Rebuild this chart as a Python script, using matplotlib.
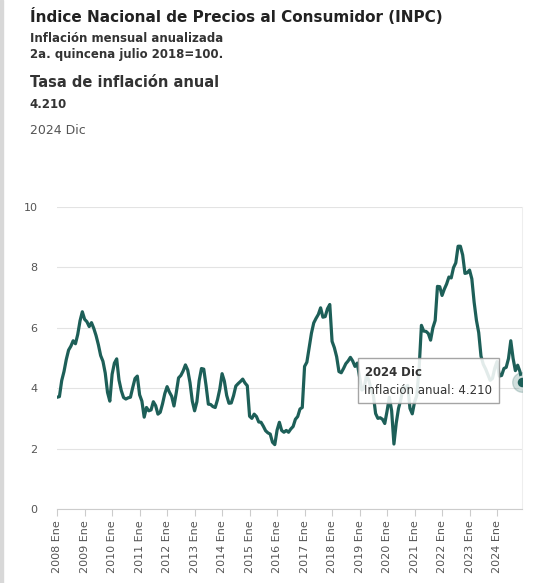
import matplotlib.pyplot as plt
import numpy as np

years = list(range(2008, 2025))
inflacion = [
    3.70, 3.72, 4.25, 4.55, 4.95, 5.26, 5.39, 5.57, 5.47, 5.78, 6.23, 6.53,
    6.28, 6.20, 6.04, 6.17, 5.98, 5.74, 5.44, 5.08, 4.89, 4.50, 3.86, 3.57,
    4.46, 4.83, 4.97, 4.27, 3.92, 3.69, 3.64, 3.68, 3.70, 4.02, 4.32, 4.40,
    3.78, 3.57, 3.04, 3.36, 3.25, 3.28, 3.55, 3.42, 3.14, 3.20, 3.48, 3.82,
    4.05, 3.87, 3.73, 3.41, 3.85, 4.34, 4.42, 4.57, 4.77, 4.60, 4.18, 3.57,
    3.25, 3.55, 4.25, 4.65, 4.63, 4.09, 3.47, 3.46, 3.39, 3.36, 3.62, 3.97,
    4.48, 4.23, 3.76, 3.50, 3.51, 3.75, 4.07, 4.15, 4.22, 4.30, 4.17, 4.08,
    3.07, 3.00, 3.14, 3.06, 2.88, 2.87, 2.74, 2.59, 2.52, 2.48, 2.21, 2.13,
    2.61, 2.87, 2.60, 2.54, 2.60, 2.54, 2.65, 2.73, 2.97, 3.06, 3.31, 3.36,
    4.72, 4.86, 5.35, 5.82, 6.16, 6.31, 6.44, 6.66, 6.35, 6.37, 6.63, 6.77,
    5.55, 5.34, 5.04, 4.55, 4.51, 4.65, 4.81, 4.90, 5.02, 4.90, 4.72, 4.83,
    4.37, 3.94, 4.00, 4.41, 4.28, 3.95, 3.78, 3.16, 3.00, 3.02, 2.97, 2.83,
    3.24, 3.70, 3.25, 2.15, 2.84, 3.33, 3.62, 4.05, 4.01, 4.09, 3.33, 3.15,
    3.54, 3.76, 4.67, 6.08, 5.89, 5.88, 5.81, 5.59, 6.00, 6.24, 7.37, 7.36,
    7.07, 7.28, 7.45, 7.68, 7.65, 7.99, 8.15, 8.70, 8.70, 8.41, 7.80, 7.82,
    7.91, 7.62, 6.85, 6.25, 5.84, 5.06, 4.79, 4.64, 4.45, 4.26, 4.32, 4.66,
    4.88, 4.40, 4.42, 4.65, 4.69, 4.98, 5.57, 4.99, 4.58, 4.76, 4.55, 4.21,
]
tick_labels = [f"{y} Ene" for y in years]
line_color = "#1d5f58"
grey = "#555555"

fig = plt.figure(figsize=(5.44, 5.83), dpi=100)
fig.add_artist(plt.Rectangle((0, 0), 0.006, 1, transform=fig.transFigure, color="#d8d8d8"))

fig.text(0.055, 0.972, "Índice Nacional de Precios al Consumidor (INPC)", fontsize=11,
         fontweight="bold", color="#222222", va="center")
fig.text(0.055, 0.934, "Inflación mensual anualizada", fontsize=8.5, fontweight="bold",
         color="#333333", va="center")
fig.text(0.055, 0.907, "2a. quincena julio 2018=100.", fontsize=8.5, fontweight="bold",
         color="#333333", va="center")
fig.text(0.055, 0.858, "Tasa de inflación anual", fontsize=10.5, fontweight="bold",
         color="#333333", va="center")
fig.text(0.055, 0.82, "4.210", fontsize=8.5, fontweight="bold", color="#333333", va="center")
fig.text(0.055, 0.777, "2024 Dic", fontsize=9, color="#555555", va="center")

ax = fig.add_axes([0.105, 0.127, 0.855, 0.518])
x = np.arange(len(inflacion))
ax.plot(x, inflacion, color=line_color, lw=2.3, zorder=3)
ax.scatter([x[-1]], [inflacion[-1]], s=70, color=line_color, edgecolor="white",
           linewidth=1.5, zorder=7)
ax.scatter([x[-1]], [inflacion[-1]], s=200, color=line_color, alpha=0.2, zorder=7)
ax.set_xlim(0, len(inflacion) - 1)
ax.set_ylim(0, 10)
ax.set_yticks([0, 2, 4, 6, 8, 10])
ax.set_xticks(x[::12])
ax.set_xticklabels(tick_labels, rotation=90, fontsize=8, color=grey)
ax.tick_params(axis="y", length=0, labelsize=8, labelcolor=grey, pad=14)
ax.tick_params(axis="x", length=5, color="#cccccc", pad=3)
ax.grid(axis="y", color="#e3e3e3", lw=0.8)
ax.set_axisbelow(True)
for s in ["top", "left"]:
    ax.spines[s].set_visible(False)
ax.spines["bottom"].set_color("#cccccc")
ax.spines["right"].set_color("#eeeeee")

ax.annotate("$\\bf{2024\\ Dic}$\nInflación anual: 4.210", xy=(x[-1], inflacion[-1]),
            xytext=(x[-1] - 69, 4.25), fontsize=8.5, color="#333333", va="center",
            linespacing=1.5,
            bbox=dict(boxstyle="square,pad=0.55", fc="white", ec="#999999", alpha=0.88),
            zorder=6)

fig.savefig("out.png", dpi=100)
